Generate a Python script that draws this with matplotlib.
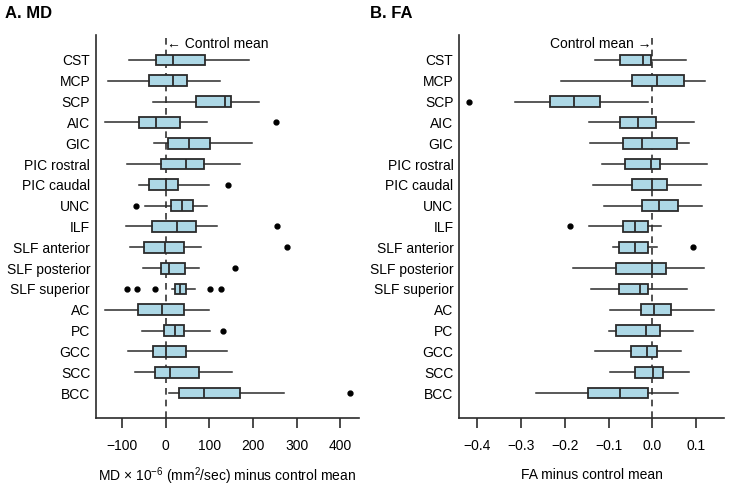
import numpy as np
import matplotlib
matplotlib.use('Agg')
import matplotlib.pyplot as plt

plt.rcParams['font.family'] = ['Liberation Sans', 'DejaVu Sans']
plt.rcParams['mathtext.fontset'] = 'custom'
plt.rcParams['mathtext.rm'] = 'Liberation Sans'

tracts = ['CST', 'MCP', 'SCP', 'AIC', 'GIC', 'PIC rostral', 'PIC caudal', 'UNC',
          'ILF', 'SLF anterior', 'SLF posterior', 'SLF superior', 'AC', 'PC',
          'GCC', 'SCC', 'BCC']

# MD: whisker low, q1, median, q3, whisker high, outliers
md_lo = [-83, -131, -28, -139, -27, -89, -60, -47, -90, -81, -52, 14, -138, -53, -86, -70, 8]
md_q1 = [-21, -38, 70, -60, 6, -11, -37, 13, -30, -49, -11, 21, -63, -3, -28, -24, 30]
md_med = [18, 17, 137, -21, 54, 46, 1, 37, 27, -2, 9, 34, -9, 22, 0, 11, 89]
md_q3 = [91, 50, 151, 34, 101, 87, 29, 63, 70, 42, 45, 46, 42, 43, 47, 76, 171]
md_hi = [190, 124, 213, 96, 199, 170, 99, 96, 118, 81, 76, 67, 99, 102, 140, 153, 272]
md_out = [[], [], [], [253], [], [], [143], [-68], [256], [278], [158],
          [-89, -66, -24, 102, 126], [], [132], [], [], [422]]

fa_lo = [-0.132, -0.208, -0.313, -0.144, -0.143, -0.114, -0.136, -0.110, -0.144,
         -0.090, -0.181, -0.141, -0.096, -0.100, -0.132, -0.096, -0.265]
fa_q1 = [-0.073, -0.046, -0.234, -0.073, -0.066, -0.063, -0.046, -0.023, -0.068,
         -0.075, -0.082, -0.075, -0.025, -0.082, -0.049, -0.040, -0.146]
fa_med = [-0.021, 0.011, -0.179, -0.032, -0.024, -0.004, -0.002, 0.016, -0.040,
          -0.040, -0.002, -0.028, 0.003, -0.014, -0.012, 0.002, -0.073]
fa_q3 = [-0.003, 0.073, -0.119, 0.008, 0.055, 0.018, 0.033, 0.059, -0.009,
         -0.011, 0.030, -0.010, 0.042, 0.017, 0.011, 0.025, -0.010]
fa_hi = [0.077, 0.119, -0.011, 0.094, 0.084, 0.124, 0.111, 0.113, 0.019,
         0.011, 0.117, 0.078, 0.140, 0.093, 0.065, 0.084, 0.058]
fa_out = [[], [], [-0.419], [], [], [], [], [], [-0.189], [0.092],
          [], [], [], [], [], [], []]


def stats(lo, q1, med, q3, hi, out):
    return [dict(whislo=a, q1=b, med=c, q3=d, whishi=e, fliers=f)
            for a, b, c, d, e, f in zip(lo, q1, med, q3, hi, out)]


fig = plt.figure(figsize=(7.29, 4.91), dpi=100)
W, H = 729., 491.
axA = fig.add_axes([95.7 / W, 1 - 418 / H, (359 - 95.7) / W, (418 - 35) / H])
axB = fig.add_axes([459 / W, 1 - 418 / H, (724.3 - 459) / W, (418 - 35) / H])

edge = '#2b2b2b'
pos = np.arange(1, len(tracts) + 1)

for ax, st in [(axA, stats(md_lo, md_q1, md_med, md_q3, md_hi, md_out)),
               (axB, stats(fa_lo, fa_q1, fa_med, fa_q3, fa_hi, fa_out))]:
    ax.bxp(st, positions=pos, vert=False, widths=0.52, patch_artist=True,
           showcaps=False,
           boxprops=dict(facecolor='#add8e6', edgecolor=edge, linewidth=1.3),
           medianprops=dict(color=edge, linewidth=1.3),
           whiskerprops=dict(color=edge, linewidth=1.1),
           flierprops=dict(marker='o', markerfacecolor='black', markeredgecolor='black',
                           markersize=3.5))
    ax.axvline(0, color='#333333', linestyle=(0, (4, 3)), linewidth=1.2, zorder=0)
    ax.set_ylim(18.2, -0.2)
    ax.set_yticks(pos)
    ax.set_yticklabels(tracts, fontsize=10)
    ax.tick_params(axis='y', length=0, pad=4)
    ax.tick_params(axis='x', length=7, width=1.2, labelsize=10, pad=8, color=edge)
    ax.spines['top'].set_visible(False)
    ax.spines['right'].set_visible(False)
    for s in ['left', 'bottom']:
        ax.spines[s].set_linewidth(1.2)
        ax.spines[s].set_color(edge)

axA.set_xlim(-160, 443)
axA.set_xticks([-100, 0, 100, 200, 300, 400])
axA.set_xticklabels(['\u2212100', '0', '100', '200', '300', '400'])
axA.set_xlabel(r'MD $\times$ 10$^{-6}$ (mm$^2$/sec) minus control mean', fontsize=10, labelpad=9)
axA.text(3, 0.23, '\u2190 Control mean', fontsize=10, va='center', ha='left')

axB.set_xlim(-0.441, 0.164)
fa_ticks = [-0.4, -0.3, -0.2, -0.1, 0.0, 0.1]
axB.set_xticks(fa_ticks)
axB.set_xticklabels(['\u22120.4', '\u22120.3', '\u22120.2', '\u22120.1', '0.0', '0.1'])
axB.set_xlabel('FA minus control mean', fontsize=10, labelpad=11)
axB.text(-0.003, 0.23, 'Control mean \u2192', fontsize=10, va='center', ha='right')

fig.text(5 / W, 1 - 14 / H, 'A. MD', fontsize=12, fontweight='bold', va='center', ha='left')
fig.text(370 / W, 1 - 14 / H, 'B. FA', fontsize=12, fontweight='bold', va='center', ha='left')

fig.savefig('out.png', dpi=100)
